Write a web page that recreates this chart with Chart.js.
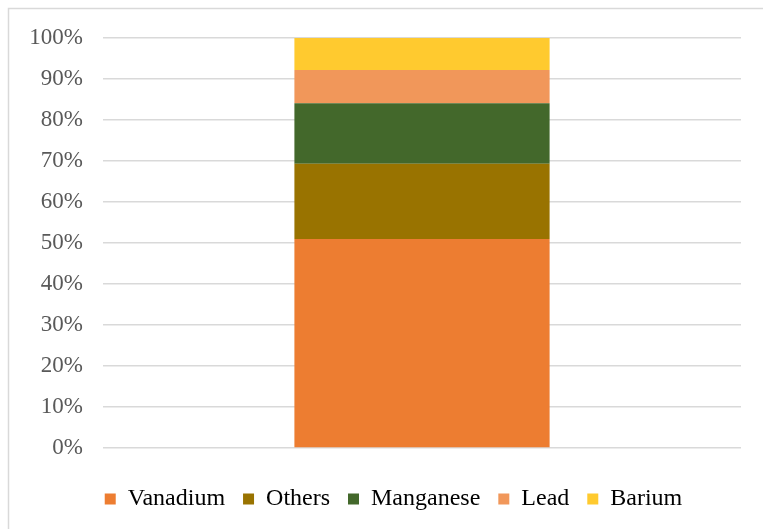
<!DOCTYPE html>
<html>
<head>
<meta charset="utf-8">
<script src="https://cdn.jsdelivr.net/npm/chart.js@4"></script>
<style>
  html, body { margin: 0; padding: 0; background: #fff; }
  #wrap { width: 763px; height: 529px; position: relative; }
</style>
</head>
<body>
<div id="wrap"><canvas id="container" width="763" height="529"></canvas></div>
<script>
const categories = [""]
const seriesNames = ["Vanadium", "Others", "Manganese", "Lead", "Barium"]
const seriesValues = [[51.0], [18.3], [14.8], [8.1], [7.8]]
const seriesColors = ["#ed7d31", "#997300", "#43682b", "#f1975a", "#ffca2f"]
const yTicks = [0, 10, 20, 30, 40, 50, 60, 70, 80, 90, 100]

const serif = "'Liberation Serif', 'Times New Roman', serif"

// outer frame (top and left edges only visible) + legend nudged right
const framePlugin = {
    id: 'frame',
    afterLayout(chart) {
        if (chart.legend) {
            chart.legend.left += 16
            chart.legend.right += 16
        }
    },
    beforeDraw(chart) {
        const ctx = chart.ctx
        ctx.save()
        ctx.fillStyle = '#fff'
        ctx.fillRect(0, 0, chart.width, chart.height)
        ctx.strokeStyle = '#d9d9d9'
        ctx.lineWidth = 1.5
        ctx.strokeRect(8.5, 8.5, chart.width + 10, chart.height + 10)
        ctx.restore()
    }
}

const stateChart = new Chart(document.getElementById('container'), {
    type: "bar",
    data: {
        labels: categories,
        datasets: seriesNames.map((name, i) => ({
            label: name,
            data: seriesValues[i],
            backgroundColor: seriesColors[i],
            borderWidth: 0,
            barPercentage: 1,
            categoryPercentage: 0.4
        }))
    },
    options: {
        responsive: false,
        animation: false,
        layout: { padding: { top: 38, left: 14, right: 22, bottom: 8 } },
        plugins: {
            tooltip: { enabled: false },
            legend: {
                position: 'bottom',
                labels: {
                    font: { family: serif, size: 24 },
                    color: '#000',
                    boxWidth: 11,
                    boxHeight: 11,
                    padding: 18
                }
            }
        },
        scales: {
            x: {
                stacked: true,
                grid: { display: false },
                border: { display: false },
                ticks: { display: false },
                afterFit(axis) { axis.height = 21 }
            },
            y: {
                stacked: true,
                min: 0,
                max: 100,
                afterBuildTicks(axis) {
                    axis.ticks = yTicks.map(v => ({ value: v }))
                },
                afterFit(axis) { axis.width = 89 },
                grid: { color: '#d9d9d9', lineWidth: 1.5, drawTicks: false },
                border: { display: false },
                ticks: {
                    padding: 20,
                    color: '#595959',
                    font: { family: serif, size: 23 },
                    callback: v => v + '%'
                }
            }
        }
    },
    plugins: [framePlugin]
});
</script>
</body>
</html>
